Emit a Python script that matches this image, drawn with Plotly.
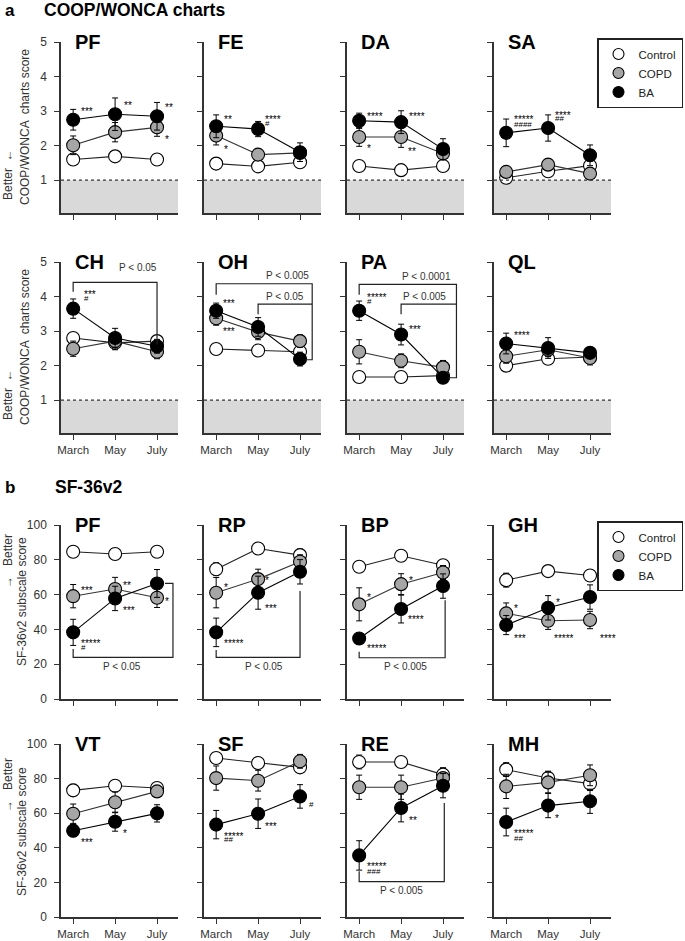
import plotly.graph_objects as go

FONT = "Liberation Sans, Arial, sans-serif"

MONTHS = ["March", "May", "July"]
GROUPS = ["Control", "COPD", "BA"]

# COOP/WONCA charts (panel a)
COOP_PANELS = ["PF", "FE", "DA", "SA", "CH", "OH", "PA", "QL"]
COOP_CONTROL = [[1.60, 1.69, 1.60], [1.48, 1.40, 1.52], [1.41, 1.29, 1.41], [1.07, 1.26, 1.42],
                [2.80, 2.66, 2.71], [2.48, 2.44, 2.40], [1.67, 1.67, 1.71], [2.00, 2.20, 2.25]]
COOP_CONTROL_SE = [[0.12, 0.12, 0.15], [0.08, 0.08, 0.12], [0.08, 0.06, 0.10], [0.06, 0.08, 0.10],
                   [0.10, 0.10, 0.15], [0.08, 0.08, 0.10], [0.08, 0.08, 0.08], [0.10, 0.10, 0.10]]
COOP_COPD = [[2.01, 2.39, 2.53], [2.29, 1.74, 1.79], [2.25, 2.25, 1.77], [1.24, 1.45, 1.19],
             [2.49, 2.71, 2.40], [3.37, 2.97, 2.71], [2.40, 2.14, 1.95], [2.27, 2.46, 2.22]]
COOP_COPD_SE = [[0.27, 0.28, 0.26], [0.27, 0.12, 0.10], [0.27, 0.30, 0.10], [0.10, 0.17, 0.10],
                [0.22, 0.25, 0.20], [0.20, 0.22, 0.18], [0.35, 0.20, 0.20], [0.20, 0.20, 0.20]]
COOP_BA = [[2.75, 2.91, 2.85], [2.56, 2.48, 1.81], [2.72, 2.68, 1.90], [2.37, 2.51, 1.72],
           [3.65, 2.80, 2.56], [3.59, 3.12, 2.19], [3.59, 2.90, 1.65], [2.64, 2.51, 2.37]]
COOP_BA_SE = [[0.30, 0.47, 0.40], [0.33, 0.22, 0.27], [0.22, 0.33, 0.30], [0.40, 0.38, 0.30],
              [0.28, 0.28, 0.20], [0.22, 0.27, 0.20], [0.28, 0.30, 0.08], [0.30, 0.30, 0.12]]

# SF-36v2 (panel b)
SF_PANELS = ["PF", "RP", "BP", "GH", "VT", "SF", "RE", "MH"]
SF_CONTROL = [[84.6, 83.3, 84.6], [74.6, 86.5, 82.7], [76.0, 82.3, 76.9], [68.3, 73.5, 71.0],
              [73.2, 75.9, 74.6], [91.9, 89.0, 86.5], [89.6, 89.6, 82.3], [85.2, 80.3, 77.1]]
SF_CONTROL_SE = [[2.0, 2.0, 2.5], [3.7, 2.0, 3.5], [3.0, 3.0, 3.0], [4.0, 3.0, 3.0],
                 [3.5, 3.0, 2.5], [2.0, 3.0, 3.0], [4.0, 1.0, 4.0], [4.0, 4.0, 4.0]]
SF_COPD = [[59.1, 63.2, 58.2], [61.1, 68.9, 78.9], [54.4, 66.0, 72.7], [49.2, 45.0, 45.4],
           [59.7, 66.3, 72.6], [80.3, 78.8, 90.0], [75.0, 75.0, 80.3], [75.5, 77.8, 81.9]]
SF_COPD_SE = [[6.7, 6.7, 5.6], [8.7, 5.7, 4.0], [9.5, 6.0, 4.0], [6.0, 5.0, 5.0],
              [5.6, 6.0, 3.0], [7.0, 6.0, 4.0], [7.0, 7.0, 3.0], [7.0, 6.0, 6.0]]
SF_BA = [[38.3, 57.8, 66.4], [38.3, 61.1, 73.1], [34.8, 51.7, 64.9], [42.5, 52.4, 58.6],
         [49.9, 55.1, 59.9], [53.4, 59.7, 69.7], [35.6, 63.0, 75.9], [54.9, 64.4, 66.9]]
SF_BA_SE = [[7.5, 7.0, 8.0], [8.2, 9.5, 7.0], [3.0, 8.0, 7.0], [5.5, 7.0, 7.0],
            [3.5, 5.5, 5.0], [8.2, 8.5, 6.8], [8.5, 8.0, 7.0], [8.0, 7.0, 7.0]]

# significance marks: (panel 0-15, month index, y, text, x offset px)
MARKS = [
    (0, 0, 3.07, "***", 6), (0, 1, 3.25, "**", 7), (0, 2, 3.18, "**", 6), (0, 2, 2.27, "*", 6),
    (1, 0, 2.83, "**", 6), (1, 0, 1.98, "*", 6), (1, 1, 2.83, "****", 5), (1, 1, 2.63, "#", 5),
    (2, 0, 2.92, "****", 6), (2, 0, 2.00, "*", 6), (2, 1, 2.92, "****", 6), (2, 1, 1.91, "**", 5),
    (3, 0, 2.83, "*****", 6), (3, 0, 2.61, "####", 6), (3, 1, 2.97, "****", 5), (3, 1, 2.78, "##", 5),
    (4, 0, 4.14, "***", 9), (4, 0, 3.93, "#", 9),
    (5, 0, 3.90, "***", 5), (5, 0, 3.08, "***", 5),
    (6, 0, 4.06, "*****", 6), (6, 0, 3.86, "#", 6), (6, 1, 3.13, "***", 6),
    (7, 0, 2.97, "****", 6),
    (8, 0, 64.1, "***", 6), (8, 0, 33.5, "*****", 6), (8, 0, 29.5, "#", 6),
    (8, 1, 67.0, "**", 6), (8, 1, 52.6, "***", 6), (8, 2, 57.8, "*", 6),
    (9, 0, 66.0, "*", 6), (9, 0, 33.5, "*****", 6), (9, 1, 69.9, "*", 5), (9, 1, 54.0, "***", 5),
    (10, 0, 60.1, "*", 6), (10, 0, 30.6, "*****", 6), (10, 1, 69.9, "*", 6), (10, 1, 47.3, "****", 5),
    (11, 0, 53.6, "*", 6), (11, 0, 36.7, "***", 6), (11, 1, 57.2, "*", 6), (11, 1, 36.7, "*****", 4),
    (11, 2, 36.7, "****", 8),
    (12, 0, 44.7, "***", 6), (12, 1, 49.9, "*", 6),
    (13, 0, 48.5, "*****", 6), (13, 0, 44.7, "##", 6), (13, 1, 54.3, "***", 5), (13, 2, 65.3, "#", 7),
    (14, 0, 31.0, "*****", 6), (14, 0, 26.4, "###", 6), (14, 1, 57.6, "**", 6),
    (15, 0, 50.0, "*****", 6), (15, 0, 45.3, "##", 6), (15, 1, 58.8, "*", 5),
]

# comparison brackets: (panel, [(x, y), ...], label, label x, label y)
BRACKETS = [
    (4, [(0, 4.14), (0, 4.41), (2, 4.41), (2, 2.61)], "P < 0.05", 1.55, 4.83),
    (5, [(0, 4.05), (0, 4.37), (2.29, 4.37), (2.29, 2.17), (2.12, 2.17)], "P < 0.005", 1.69, 4.61),
    (5, [(1, 3.49), (1, 3.78), (2.29, 3.78)], "P < 0.05", 1.65, 4.0),
    (6, [(0, 4.05), (0, 4.35), (2.32, 4.35), (2.32, 1.65), (2.12, 1.65)], "P < 0.0001", 1.6, 4.59),
    (6, [(1, 3.49), (1, 3.78), (2.32, 3.78)], "P < 0.005", 1.56, 4.0),
    (8, [(0, 28.7), (0, 23.9), (2.38, 23.9), (2.38, 66.4), (2.19, 66.4)], "P < 0.05", 1.17, 18.9),
    (9, [(0, 28.1), (0, 23.9), (2.0, 23.9), (2.0, 62.0)], "P < 0.05", 1.15, 18.9),
    (10, [(0, 27.2), (0, 23.7), (2.05, 23.7), (2.05, 56.8)], "P < 0.005", 1.1, 18.9),
    (14, [(0, 26.4), (0, 20.4), (2.03, 20.4), (2.03, 65.9)], "P < 0.005", 1.0, 15.2),
]

W, H = 685, 941
COL_PX = [(61, 178), (204, 321), (347, 464), (494, 611)]
ROW_PX = [(42, 213), (262, 433), (525, 699), (744, 917)]

STYLE = {"Control": ("white", "#222"), "COPD": ("#a6a6a6", "#333"), "BA": ("black", "black")}


def sfx(k):
    return "" if k == 0 else str(k + 1)


fig = go.Figure()
layout = {}
shapes = []
annotations = []

for k in range(16):
    r, c = divmod(k, 4)
    coop = r < 2
    i = k if coop else k - 8
    if coop:
        data = [(COOP_CONTROL[i], COOP_CONTROL_SE[i]), (COOP_COPD[i], COOP_COPD_SE[i]), (COOP_BA[i], COOP_BA_SE[i])]
        title = COOP_PANELS[i]
    else:
        data = [(SF_CONTROL[i], SF_CONTROL_SE[i]), (SF_COPD[i], SF_COPD_SE[i]), (SF_BA[i], SF_BA_SE[i])]
        title = SF_PANELS[i]
    xa, ya = "x" + sfx(k), "y" + sfx(k)

    for g, (vals, se) in zip(GROUPS, data):
        fill, line = STYLE[g]
        fig.add_trace(go.Scatter(
            x=[0, 1, 2], y=vals, mode="lines+markers", xaxis=xa, yaxis=ya, showlegend=False,
            line=dict(color=line, width=1.1),
            marker=dict(size=13, color=fill, line=dict(color="black", width=1.1)),
            error_y=dict(type="data", array=se, color="black", thickness=1, width=3),
        ))

    x0, x1 = COL_PX[c]
    y0, y1 = ROW_PX[r]
    layout["xaxis" + sfx(k)] = dict(
        domain=[x0 / W, x1 / W], anchor=ya, range=[-0.29, 2.5],
        tickvals=[0, 1, 2], ticktext=MONTHS, showticklabels=(r in (1, 3)),
        showline=True, linecolor="#333", linewidth=1.5, ticks="outside", ticklen=5,
        tickwidth=1.2, tickcolor="#333", showgrid=False, zeroline=False,
        tickfont=dict(size=11.5, color="#333", family=FONT),
    )
    layout["yaxis" + sfx(k)] = dict(
        domain=[1 - y1 / H, 1 - y0 / H], anchor=xa,
        range=[0.05, 5] if coop else [0, 100],
        tickvals=[1, 2, 3, 4, 5] if coop else [0, 20, 40, 60, 80, 100],
        showticklabels=(c == 0), ticklabelstandoff=5,
        showline=True, linecolor="#333", linewidth=1.5, ticks="outside", ticklen=5,
        tickwidth=1.2, tickcolor="#333", showgrid=False, zeroline=False,
        tickfont=dict(size=12, color="#333", family=FONT),
    )

    if coop:
        shapes.append(dict(type="rect", xref=xa + " domain", yref=ya, x0=0, x1=1, y0=0.05, y1=1,
                           fillcolor="#d9d9d9", line=dict(width=0), layer="below"))
        shapes.append(dict(type="line", xref=xa + " domain", yref=ya, x0=0, x1=1, y0=1, y1=1,
                           line=dict(color="#333", width=1.2, dash="dot")))

    annotations.append(dict(text="<b>%s</b>" % title, xref=xa + " domain", yref=ya + " domain",
                            x=0.1, y=1, xanchor="left", yanchor="middle", showarrow=False,
                            font=dict(size=20, color="black", family=FONT)))

for k, m, y, txt_, dx in MARKS:
    xa, ya = "x" + sfx(k), "y" + sfx(k)
    star = "*" in txt_
    annotations.append(dict(text=txt_, xref=xa, yref=ya, x=m, y=y, xanchor="left", yanchor="middle",
                            xshift=dx, yshift=-3 if star else 0, showarrow=False,
                            font=dict(size=10 if star else 8, color="black", family=FONT)))

for k, pts, label, lx, ly in BRACKETS:
    xa, ya = "x" + sfx(k), "y" + sfx(k)
    path = "M " + " L ".join("%s,%s" % p for p in pts)
    shapes.append(dict(type="path", xref=xa, yref=ya, path=path, line=dict(color="#222", width=1.2)))
    annotations.append(dict(text=label, xref=xa, yref=ya, x=lx, y=ly, showarrow=False,
                            font=dict(size=10, color="#333", family=FONT)))

# legend entries (marker only)
for leg, ax in (("legend", "x"), ("legend2", "x9")):
    for g in GROUPS:
        fill, _ = STYLE[g]
        fig.add_trace(go.Scatter(
            x=[None], y=[None], mode="markers", name=g, legend=leg,
            xaxis=ax, yaxis=ax.replace("x", "y"),
            marker=dict(size=11, color=fill, line=dict(color="black", width=1.1)),
        ))


# panel headings and axis titles
def txt(text, px, py, size, bold=False, angle=0, anchor="left", color="black"):
    annotations.append(dict(text="<b>%s</b>" % text if bold else text, xref="paper", yref="paper",
                            x=px / W, y=1 - py / H, xanchor=anchor, yanchor="middle", showarrow=False,
                            textangle=angle, font=dict(size=size, color=color, family=FONT)))


txt("a", 3, 10, 17, bold=True)
txt("COOP/WONCA charts", 42, 10, 17.5, bold=True)
txt("b", 3, 487, 17, bold=True)
txt("SF-36v2", 53, 487, 17.5, bold=True)

for cy, by in ((127, 175), (347, 395)):
    txt("COOP/WONCA  charts score", 25, cy, 12, angle=-90, anchor="center", color="#333")
    txt("Better  ←", 8, by, 12, angle=-90, anchor="center", color="#333")
for cy, by in ((602, 561), (832, 785)):
    txt("SF-36v2 subscale score", 22, cy, 12, angle=-90, anchor="center", color="#333")
    txt("→   Better", 8, by, 12, angle=-90, anchor="center", color="#333")

leg_style = dict(xanchor="right", yanchor="top", bordercolor="#222", borderwidth=1.5, bgcolor="white",
                 font=dict(size=11.5, color="#222", family=FONT), tracegroupgap=0, itemwidth=30)

fig.update_layout(
    width=W, height=H, margin=dict(l=0, r=0, t=0, b=0, autoexpand=False),
    plot_bgcolor="white", paper_bgcolor="white",
    font=dict(family=FONT, color="#333"),
    shapes=shapes, annotations=annotations,
    legend=dict(x=683 / W, y=1 - 38 / H, **leg_style),
    legend2=dict(x=683 / W, y=1 - 521 / H, **leg_style),
    **layout,
)

# the page's default body margin would offset the figure by 8px
fig.write_html("out.html", config={"displayModeBar": False},
               post_script="document.body.style.margin='0';")
